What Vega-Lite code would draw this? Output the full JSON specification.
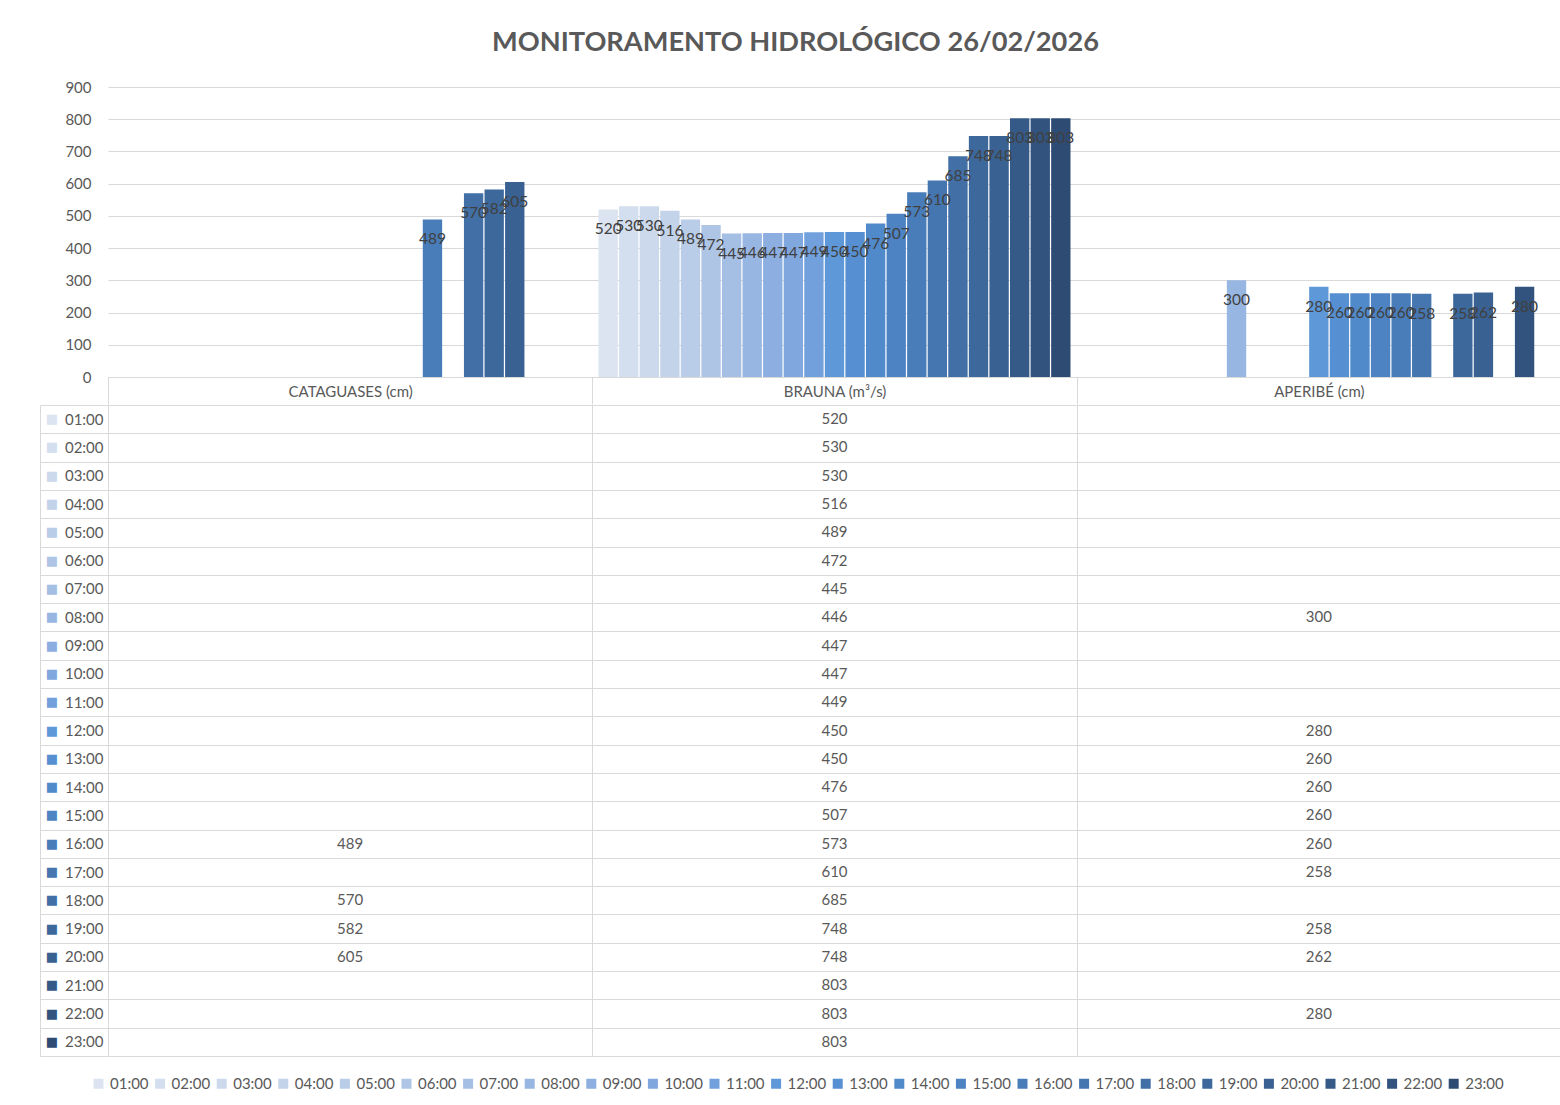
{
  "$schema": "https://vega.github.io/schema/vega-lite/v6.json",
  "padding": {"left": 39, "top": 28, "right": 0, "bottom": 0},
  "background": "white",
  "title": {"text": "MONITORAMENTO HIDROLÓGICO 26/02/2026", "font": "Lato", "fontSize": 27.2, "fontWeight": "bold", "color": "#595959", "anchor": "middle", "offset": 23, "dx": -5},
  "datasets": {
    "levels": [
      {"station": "CATAGUASES (cm)", "hour": "16:00", "value": 489},
      {"station": "CATAGUASES (cm)", "hour": "18:00", "value": 570},
      {"station": "CATAGUASES (cm)", "hour": "19:00", "value": 582},
      {"station": "CATAGUASES (cm)", "hour": "20:00", "value": 605},
      {"station": "BRAUNA (m³/s)", "hour": "01:00", "value": 520},
      {"station": "BRAUNA (m³/s)", "hour": "02:00", "value": 530},
      {"station": "BRAUNA (m³/s)", "hour": "03:00", "value": 530},
      {"station": "BRAUNA (m³/s)", "hour": "04:00", "value": 516},
      {"station": "BRAUNA (m³/s)", "hour": "05:00", "value": 489},
      {"station": "BRAUNA (m³/s)", "hour": "06:00", "value": 472},
      {"station": "BRAUNA (m³/s)", "hour": "07:00", "value": 445},
      {"station": "BRAUNA (m³/s)", "hour": "08:00", "value": 446},
      {"station": "BRAUNA (m³/s)", "hour": "09:00", "value": 447},
      {"station": "BRAUNA (m³/s)", "hour": "10:00", "value": 447},
      {"station": "BRAUNA (m³/s)", "hour": "11:00", "value": 449},
      {"station": "BRAUNA (m³/s)", "hour": "12:00", "value": 450},
      {"station": "BRAUNA (m³/s)", "hour": "13:00", "value": 450},
      {"station": "BRAUNA (m³/s)", "hour": "14:00", "value": 476},
      {"station": "BRAUNA (m³/s)", "hour": "15:00", "value": 507},
      {"station": "BRAUNA (m³/s)", "hour": "16:00", "value": 573},
      {"station": "BRAUNA (m³/s)", "hour": "17:00", "value": 610},
      {"station": "BRAUNA (m³/s)", "hour": "18:00", "value": 685},
      {"station": "BRAUNA (m³/s)", "hour": "19:00", "value": 748},
      {"station": "BRAUNA (m³/s)", "hour": "20:00", "value": 748},
      {"station": "BRAUNA (m³/s)", "hour": "21:00", "value": 803},
      {"station": "BRAUNA (m³/s)", "hour": "22:00", "value": 803},
      {"station": "BRAUNA (m³/s)", "hour": "23:00", "value": 803},
      {"station": "APERIBÉ (cm)", "hour": "08:00", "value": 300},
      {"station": "APERIBÉ (cm)", "hour": "12:00", "value": 280},
      {"station": "APERIBÉ (cm)", "hour": "13:00", "value": 260},
      {"station": "APERIBÉ (cm)", "hour": "14:00", "value": 260},
      {"station": "APERIBÉ (cm)", "hour": "15:00", "value": 260},
      {"station": "APERIBÉ (cm)", "hour": "16:00", "value": 260},
      {"station": "APERIBÉ (cm)", "hour": "17:00", "value": 258},
      {"station": "APERIBÉ (cm)", "hour": "19:00", "value": 258},
      {"station": "APERIBÉ (cm)", "hour": "20:00", "value": 262},
      {"station": "APERIBÉ (cm)", "hour": "22:00", "value": 280}
    ]
  },
  "spacing": -15,
  "vconcat": [
    {
      "width": 1453,
      "height": 290,
      "data": {"name": "levels"},
      "encoding": {
        "x": {"field": "station", "type": "nominal", "sort": null,
          "scale": {"domain": ["CATAGUASES (cm)", "BRAUNA (m³/s)", "APERIBÉ (cm)"], "paddingInner": 0, "paddingOuter": 0},
          "axis": {"title": null, "orient": "bottom", "domain": true, "domainColor": "#d9d9d9", "ticks": true, "tickBand": "extent", "tickSize": 27, "tickColor": "#d9d9d9", "labelPadding": -20, "labelFont": "Lato", "labelFontSize": 15, "labelColor": "#595959", "labelAngle": 0}},
        "xOffset": {"field": "hour", "type": "ordinal",
          "scale": {"domain": ["01:00","02:00","03:00","04:00","05:00","06:00","07:00","08:00","09:00","10:00","11:00","12:00","13:00","14:00","15:00","16:00","17:00","18:00","19:00","20:00","21:00","22:00","23:00"], "paddingInner": 0.06, "paddingOuter": 0.3}},
        "y": {"field": "value", "type": "quantitative",
          "scale": {"domain": [0, 900], "nice": false},
          "axis": {"title": null, "values": [0,100,200,300,400,500,600,700,800,900], "grid": true, "gridColor": "#d9d9d9", "domain": false, "ticks": false, "labelPadding": 17, "labelFont": "Lato", "labelFontSize": 15, "labelColor": "#595959"}}
      },
      "layer": [
        {
          "mark": {"type": "bar", "stroke": null},
          "encoding": {
            "color": {"field": "hour", "type": "ordinal",
              "scale": {"domain": ["01:00","02:00","03:00","04:00","05:00","06:00","07:00","08:00","09:00","10:00","11:00","12:00","13:00","14:00","15:00","16:00","17:00","18:00","19:00","20:00","21:00","22:00","23:00"],
                "range": ["#dbe4f0","#d3deee","#ccd9ec","#c3d3ea","#b9cce8","#afc5e6","#a4bee4","#98b6e2","#8caee0","#80a7de","#72a0dc","#5f98d8","#5690d2","#518acb","#4d83c3","#497dba","#4576b0","#416fa6","#3d689c","#396192","#355a88","#31537e","#2d4b73"]},
              "legend": {"orient": "none", "legendX": -17, "legendY": 989, "direction": "horizontal", "columns": 23, "title": null, "symbolType": "square", "symbolSize": 100, "symbolStrokeWidth": 0, "labelFont": "Lato", "labelFontSize": 15, "labelColor": "#595959", "labelOffset": 4, "columnPadding": 3.6}}
          }
        },
        {
          "mark": {"type": "text", "font": "Lato", "fontSize": 15.5, "color": "#404040", "baseline": "middle", "dy": 20},
          "encoding": {"text": {"field": "value", "type": "quantitative", "format": "d"}}
        }
      ]
    },
    {
      "width": 1453,
      "height": 651,
      "data": {"name": "levels"},
      "layer": [
        {
          "mark": {"type": "text", "font": "Lato", "fontSize": 15, "color": "#595959", "baseline": "middle"},
          "encoding": {
            "x": {"field": "station", "type": "nominal", "sort": null,
              "scale": {"domain": ["CATAGUASES (cm)", "BRAUNA (m³/s)", "APERIBÉ (cm)"], "paddingInner": 0, "paddingOuter": 0},
              "axis": {"title": null, "orient": "top", "labels": false, "ticks": false, "domain": false, "grid": true, "gridColor": "#d9d9d9", "tickBand": "extent"}},
            "y": {"field": "hour", "type": "ordinal",
              "scale": {"domain": ["01:00","02:00","03:00","04:00","05:00","06:00","07:00","08:00","09:00","10:00","11:00","12:00","13:00","14:00","15:00","16:00","17:00","18:00","19:00","20:00","21:00","22:00","23:00"], "paddingInner": 0, "paddingOuter": 0},
              "axis": {"title": null, "orient": "left", "offset": 0, "grid": true, "gridColor": "#d9d9d9", "tickBand": "extent", "ticks": true, "tickSize": 68, "tickColor": "#d9d9d9", "domain": false, "labelPadding": -63, "labelFont": "Lato", "labelFontSize": 15, "labelColor": "#595959"}},
            "text": {"field": "value", "type": "quantitative", "format": "d"}
          }
        },
        {
          "mark": {"type": "text", "opacity": 0},
          "encoding": {
            "y": {"field": "hour", "type": "ordinal",
              "axis": {"title": null, "orient": "left", "offset": 68, "grid": false, "ticks": false, "domain": true, "domainColor": "#d9d9d9", "labelExpr": "'■'", "labelAlign": "center", "labelPadding": -11.5, "labelFont": "DejaVu Sans", "labelFontSize": 13,
                "labelColor": {"expr": "['#dbe4f0','#d3deee','#ccd9ec','#c3d3ea','#b9cce8','#afc5e6','#a4bee4','#98b6e2','#8caee0','#80a7de','#72a0dc','#5f98d8','#5690d2','#518acb','#4d83c3','#497dba','#4576b0','#416fa6','#3d689c','#396192','#355a88','#31537e','#2d4b73'][toNumber(slice(datum.value,0,2))-1]"}}},
            "text": {"value": ""}
          }
        }
      ],
      "resolve": {"axis": {"y": "independent"}}
    }
  ],
  "config": {
    "view": {"stroke": null},
    "font": "Lato"
  }
}
